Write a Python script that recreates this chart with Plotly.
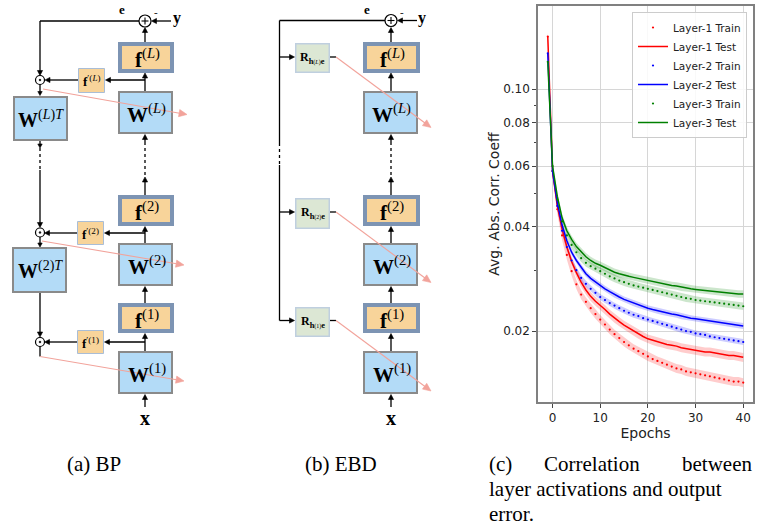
import math
import plotly.graph_objects as go

FIG_W, FIG_H = 758, 529
SERIF = "Liberation Serif"
SANS = "DejaVu Sans"

# ---------------- chart data ----------------
epochs = list(range(-1, 41))
layer1_train = [0.142, 0.058, 0.045, 0.0378, 0.0332, 0.0298, 0.0273, 0.0255, 0.0243, 0.0233, 0.0224, 0.0216,
                0.0209, 0.0202, 0.0196, 0.0191, 0.0186, 0.0182, 0.0178, 0.0175, 0.0172, 0.0169,
                0.0166, 0.0164, 0.0162, 0.0160, 0.0158, 0.0156, 0.0155, 0.0153, 0.0152, 0.0151,
                0.0150, 0.0149, 0.0148, 0.0147, 0.0146, 0.0145, 0.0144, 0.0143, 0.0143, 0.0142]
layer1_test = [0.142, 0.058, 0.046, 0.0395, 0.0350, 0.0318, 0.0295, 0.0277, 0.0263, 0.0252, 0.0244, 0.0238,
               0.0231, 0.0224, 0.0218, 0.0213, 0.0208, 0.0204, 0.0200, 0.0196, 0.0193, 0.0190,
               0.0188, 0.0186, 0.0185, 0.0183, 0.0182, 0.0181, 0.0179, 0.0178, 0.0177, 0.0176,
               0.0175, 0.0174, 0.0174, 0.0173, 0.0172, 0.0171, 0.0170, 0.0170, 0.0169, 0.0168]
layer2_train = [0.127, 0.058, 0.046, 0.0390, 0.0350, 0.0320, 0.0300, 0.0285, 0.0274, 0.0265, 0.0258, 0.0251,
                0.0246, 0.0241, 0.0237, 0.0233, 0.0229, 0.0226, 0.0223, 0.0221, 0.0218, 0.0216,
                0.0214, 0.0212, 0.0210, 0.0208, 0.0206, 0.0204, 0.0202, 0.0200, 0.0199, 0.0197,
                0.0196, 0.0195, 0.0193, 0.0192, 0.0191, 0.0190, 0.0189, 0.0188, 0.0187, 0.0186]
layer2_test = [0.127, 0.058, 0.047, 0.0405, 0.0365, 0.0338, 0.0320, 0.0305, 0.0293, 0.0284, 0.0277, 0.0271,
               0.0265, 0.0260, 0.0255, 0.0251, 0.0247, 0.0244, 0.0241, 0.0238, 0.0235, 0.0233,
               0.0231, 0.0229, 0.0227, 0.0226, 0.0224, 0.0223, 0.0221, 0.0220, 0.0218, 0.0217,
               0.0216, 0.0215, 0.0214, 0.0213, 0.0212, 0.0211, 0.0210, 0.0209, 0.0208, 0.0207]
layer3_train = [0.120, 0.060, 0.048, 0.0415, 0.0378, 0.0355, 0.0338, 0.0325, 0.0315, 0.0308, 0.0303, 0.0298,
                0.0293, 0.0288, 0.0284, 0.0280, 0.0277, 0.0274, 0.0271, 0.0269, 0.0267, 0.0265,
                0.0263, 0.0261, 0.0259, 0.0257, 0.0255, 0.0253, 0.0251, 0.0249, 0.0248, 0.0246,
                0.0245, 0.0244, 0.0243, 0.0242, 0.0241, 0.0240, 0.0239, 0.0238, 0.0237, 0.0236]
layer3_test = [0.120, 0.060, 0.049, 0.0425, 0.0390, 0.0368, 0.0351, 0.0338, 0.0328, 0.0320, 0.0314, 0.0310,
               0.0305, 0.0300, 0.0296, 0.0293, 0.0290, 0.0288, 0.0286, 0.0284, 0.0283, 0.0281,
               0.0279, 0.0277, 0.0275, 0.0273, 0.0271, 0.0270, 0.0268, 0.0267, 0.0265, 0.0264,
               0.0263, 0.0262, 0.0261, 0.0260, 0.0259, 0.0258, 0.0258, 0.0257, 0.0256, 0.0256]
layer_names = ["Layer-1", "Layer-2", "Layer-3"]
layer_colors = ["#ff0000", "#0000ff", "#008000"]
band_colors = ["rgba(255,0,0,0.2)", "rgba(0,0,255,0.2)", "rgba(0,128,0,0.2)"]
band_spread = [0.03, 0.02, 0.025]          # relative half-width of the shaded band
x_ticks = [0, 10, 20, 30, 40]
y_ticks = [0.02, 0.04, 0.06, 0.08, 0.10]
y_tick_labels = ["0.02", "0.04", "0.06", "0.08", "0.10"]
y_minor_ticks = [0.03, 0.05, 0.07, 0.09]
x_title = "Epochs"
y_title = "Avg. Abs. Corr. Coeff"

train_sets = [layer1_train, layer2_train, layer3_train]
test_sets = [layer1_test, layer2_test, layer3_test]

fig = go.Figure()
for i in range(3):
    for vals in (train_sets[i], test_sets[i]):
        up = [v * (1 + band_spread[i]) for v in vals]
        lo = [v * (1 - band_spread[i]) for v in vals]
        fig.add_trace(go.Scatter(x=epochs + epochs[::-1], y=up + lo[::-1], fill="toself",
                                 fillcolor=band_colors[i], mode="lines",
                                 line=dict(width=0, color="rgba(0,0,0,0)"),
                                 showlegend=False, hoverinfo="skip"))
for i in range(3):
    fig.add_trace(go.Scatter(x=epochs, y=train_sets[i], mode="markers",
                             marker=dict(size=2.2, color=layer_colors[i]),
                             name=f"{layer_names[i]} Train"))
    fig.add_trace(go.Scatter(x=epochs, y=test_sets[i], mode="lines",
                             line=dict(color=layer_colors[i], width=1.5),
                             name=f"{layer_names[i]} Test"))

# ---------------- diagram helpers (pixel -> paper) ----------------
shapes = []
annotations = []


def X(px):
    return px / FIG_W


def Y(py):
    return 1 - py / FIG_H


def box(x0, y0, x1, y1, fill, edge, width):
    h = width / 2.0
    shapes.append(dict(type="rect", xref="paper", yref="paper",
                       x0=X(x0 + h), x1=X(x1 - h), y0=Y(y0 + h), y1=Y(y1 - h),
                       fillcolor=fill, line=dict(color=edge, width=width)))


def seg(x0, y0, x1, y1, color="black", width=1.3, dash="solid"):
    shapes.append(dict(type="line", xref="paper", yref="paper",
                       x0=X(x0), x1=X(x1), y0=Y(y0), y1=Y(y1),
                       line=dict(color=color, width=width, dash=dash)))


def arrow(x0, y0, x1, y1, color="black", width=1.3, hl=5.0, hw=2.6):
    dx, dy = x1 - x0, y1 - y0
    L = math.hypot(dx, dy)
    ux, uy = dx / L, dy / L
    bx, by = x1 - ux * hl, y1 - uy * hl
    if L > hl:
        seg(x0, y0, bx + ux * 0.5, by + uy * 0.5, color=color, width=width)
    p1 = (bx - uy * hw, by + ux * hw)
    p2 = (bx + uy * hw, by - ux * hw)
    path = (f"M {X(x1):.5f},{Y(y1):.5f} L {X(p1[0]):.5f},{Y(p1[1]):.5f} "
            f"L {X(p2[0]):.5f},{Y(p2[1]):.5f} Z")
    shapes.append(dict(type="path", xref="paper", yref="paper", path=path,
                       fillcolor=color, line=dict(color=color, width=0.6)))


def circle(cx, cy, r, fill="white", edge="black", width=1.2):
    shapes.append(dict(type="circle", xref="paper", yref="paper",
                       x0=X(cx - r), x1=X(cx + r), y0=Y(cy + r), y1=Y(cy - r),
                       fillcolor=fill, line=dict(color=edge, width=width)))


def label(x, y, text, size, family=SERIF, color="black", xanchor="center"):
    annotations.append(dict(x=X(x), y=Y(y), xref="paper", yref="paper", text=text,
                            showarrow=False, xanchor=xanchor, yanchor="middle",
                            font=dict(size=size, family=family, color=color)))


F_FILL, F_EDGE = "#f8d49a", "#7d94b3"
W_FILL, W_EDGE = "#b3dbf7", "#8a8a8a"
FP_EDGE = "#a9bdd6"
R_FILL, R_EDGE = "#dce7d4", "#bfcfdf"
RED = "#f2a39b"


def red_arrow(x0, y0, x1, y1):
    arrow(x0, y0, x1, y1, color=RED, width=1.1, hl=8, hw=3.6)


def plus_node(cx, cy):
    circle(cx, cy, 6)
    seg(cx - 3.5, cy, cx + 3.5, cy, width=1.1)
    seg(cx, cy - 3.5, cx, cy + 3.5, width=1.1)


def odot_node(cx, cy):
    circle(cx, cy, 4.5)
    circle(cx, cy, 0.9, fill="black", width=0.5)


def f_block(x0, y0, x1, y1, sup):
    box(x0, y0, x1, y1, F_FILL, F_EDGE, 4)
    label((x0 + x1) / 2 + 1, (y0 + y1) / 2 + 1, f"<b>f</b><sup>{sup}</sup>", 21)


def w_block(x0, y0, x1, y1, sup):
    box(x0, y0, x1, y1, W_FILL, W_EDGE, 2)
    label((x0 + x1) / 2 + 1, (y0 + y1) / 2 + 1, f"<b>W</b><sup>{sup}</sup>", 21)


def right_column(cx, xl, xr_f, xr_w):
    f_block(xl, 42, xr_f, 73, "(<i>L</i>)")
    w_block(xl, 91, xr_w, 134, "(<i>L</i>)")
    arrow(cx, 91, cx, 73)
    arrow(cx, 42, cx, 27.5)
    arrow(cx, 142, cx, 134.5)
    seg(cx, 142, cx, 175, dash="dot")
    arrow(cx, 195, cx, 177)
    f_block(xl, 195, xr_f, 226, "(2)")
    w_block(xl, 243, xr_w, 286, "(2)")
    arrow(cx, 243, cx, 226.5)
    f_block(xl, 303, xr_f, 333, "(1)")
    arrow(cx, 303, cx, 286.5)
    w_block(xl, 351, xr_w, 394, "(1)")
    arrow(cx, 351, cx, 333.5)
    arrow(cx, 407, cx, 394.5)
    label(cx, 418, "<b>x</b>", 20)


# ---------------- (a) BP ----------------
bx, lx = 145, 40
plus_node(bx, 21)
label(121.5, 10, "<b>e</b>", 13)
label(155.5, 12, "-", 11)
label(177, 18, "<b>y</b>", 16)
arrow(171, 21, 151.5, 21)
seg(139, 21, lx, 21)
arrow(lx, 21, lx, 75.5)
right_column(bx, 118, 174, 173)
# layer L backward
odot_node(lx, 80)
arrow(bx, 80, 105.5, 80)
box(78, 68, 105, 93, F_FILL, FP_EDGE, 1)
label(91.5, 80.5, "<b>f</b><sup>′(<i>L</i>)</sup>", 13)
arrow(78, 80, 45, 80)
arrow(lx, 84.5, lx, 95.5, hl=4, hw=2.2)
box(13, 96, 68, 141, W_FILL, W_EDGE, 2)
label(41, 119, "<b>W</b><sup>(<i>L</i>)<i>T</i></sup>", 20)
arrow(lx, 141, lx, 148, hl=4, hw=2.2)
seg(lx, 148, lx, 170, dash="dot")
arrow(lx, 170, lx, 227.5)
# layer 2 backward
odot_node(lx, 232.5)
arrow(bx, 233, 104.5, 233)
box(77, 221, 104, 245, F_FILL, FP_EDGE, 1)
label(90.5, 233.5, "<b>f</b><sup>′(2)</sup>", 13)
arrow(77, 233, 44.5, 233)
arrow(lx, 237, lx, 247, hl=4, hw=2.2)
box(12, 247, 67, 293, W_FILL, W_EDGE, 2)
label(40, 270, "<b>W</b><sup>(2)<i>T</i></sup>", 20)
arrow(lx, 293, lx, 337)
# layer 1 backward
odot_node(lx, 342)
arrow(bx, 342, 104.5, 342)
box(77, 330, 104, 354, F_FILL, FP_EDGE, 1)
label(90.5, 342.5, "<b>f</b><sup>′(1)</sup>", 13)
arrow(77, 342, 44.5, 342)
seg(lx, 346.5, lx, 356.5)
# red outgoing arrows
red_arrow(43, 89, 187, 114.5)
red_arrow(42, 241, 184, 265)
red_arrow(lx, 356.5, 184, 381)

# ---------------- (b) EBD ----------------
ex, vx = 391, 279.5
plus_node(ex, 20.5)
label(366.5, 10, "<b>e</b>", 13)
label(402, 12, "-", 11)
label(422, 18, "<b>y</b>", 16)
arrow(417, 20.5, 397.5, 20.5)
seg(385, 20.5, vx, 20.5)
seg(vx, 20.5, vx, 143)
seg(vx, 143, vx, 165, dash="dot")
seg(vx, 165, vx, 320.5)
right_column(ex, 363, 420, 418)
for (ry0, ry1, yc, sup) in [(43, 73, 57, "(<i>L</i>)"), (198, 229, 212, "(2)"), (307, 337, 320.5, "(1)")]:
    arrow(vx, yc, 294.5, yc)
    box(295, ry0, 330, ry1, R_FILL, R_EDGE, 1.5)
    label(312.5, yc + 1, f"<b>R</b><sub><b>h</b><span style='font-size:6px'>{sup}</span><b>e</b></sub>", 12)
    seg(330, yc, 336, yc)
    red_arrow(336, yc, 431, yc + 70.5)

# ---------------- captions ----------------
CAP = 21
label(94, 464, "(a) BP", CAP)
label(341, 464, "(b) EBD", CAP)
label(487, 464, "(c)", CAP, xanchor="left")
label(592, 464, "Correlation", CAP)
label(754, 464, "between", CAP, xanchor="right")
label(487, 489, "layer activations and output", CAP, xanchor="left")
label(487, 514, "error.", CAP, xanchor="left")

# ---------------- layout ----------------
fig.update_layout(
    width=FIG_W, height=FIG_H,
    margin=dict(l=0, r=0, t=0, b=0),
    paper_bgcolor="white", plot_bgcolor="rgba(0,0,0,0)",
    font=dict(family=SANS, color="#222222"),
    shapes=shapes, annotations=annotations,
    legend=dict(x=747 / FIG_W, xanchor="right", y=1 - 12 / FIG_H, yanchor="top",
                bgcolor="rgba(255,255,255,0.85)", bordercolor="#cccccc", borderwidth=1,
                font=dict(size=10.5, family=SANS, color="#222222"), tracegroupgap=0),
    xaxis=dict(domain=[538 / FIG_W, 753 / FIG_W], range=[-3.05, 42.05], tickvals=x_ticks,
               ticks="outside", ticklen=4, tickcolor="#444", tickfont=dict(size=12),
               showgrid=True, gridcolor="#d6d6d6", gridwidth=1, zeroline=False,
               showline=True, linecolor="#808080", linewidth=1.5, mirror=True,
               title=dict(text=x_title, font=dict(size=14), standoff=0), automargin=False),
    yaxis=dict(domain=[1 - 402 / FIG_H, 1 - 6 / FIG_H], type="log",
               range=[-1.9038, -0.7595], tickvals=y_ticks, ticktext=y_tick_labels,
               ticks="outside", ticklen=4, tickcolor="#444", tickfont=dict(size=12),
               minor=dict(tickvals=y_minor_ticks, ticks="outside", ticklen=2, tickcolor="#444", showgrid=False),
               showgrid=True, gridcolor="#d6d6d6", gridwidth=1, zeroline=False,
               showline=True, linecolor="#808080", linewidth=1.5, mirror=True,
               title=dict(text=y_title, font=dict(size=14), standoff=0), automargin=False),
)

fig.write_html("out.html")
